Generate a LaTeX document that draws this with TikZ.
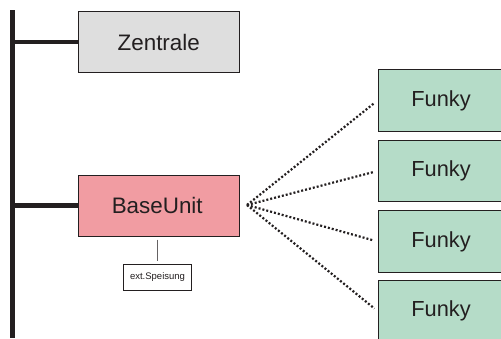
\documentclass[tikz,border=0pt]{standalone}
\usepackage{fontspec}
\setmainfont{Liberation Sans}
\definecolor{ink}{HTML}{231F20}
\definecolor{gray1}{HTML}{DEDEDE}
\definecolor{pink1}{HTML}{F19CA2}
\definecolor{green1}{HTML}{B5DCC8}
\tikzset{
  x=1pt,y=-1pt,
  unitbox/.style={draw=ink,line width=1pt,minimum width=160.5pt,minimum height=61pt,inner sep=0pt,text=ink,font=\fontsize{22.4}{24}\selectfont},
  funkybox/.style={draw=ink,line width=1pt,fill=green1,minimum width=126pt,minimum height=61.5pt,inner sep=0pt,text=ink,font=\fontsize{21.8}{24}\selectfont},
  busline/.style={draw=ink,line width=4.6pt},
  branchline/.style={draw=ink,line width=4.2pt},
  radio/.style={draw=ink,line width=2.2pt,dash pattern=on 2pt off 2pt,shorten >=4pt},
}
\begin{document}
\begin{tikzpicture}
\useasboundingbox (0,0) rectangle (501,338);
\coordinate (bustop) at (12.5,10);
\coordinate (busbottom) at (12.5,338);
\coordinate (fan) at (247,205);
\node[unitbox,fill=gray1] (zentrale) at (158.75,42) {Zentrale};
\node[unitbox,fill=pink1] (base) at (158.75,205.5) {\hspace{-3pt}BaseUnit};
\node[draw=ink,line width=1pt,fill=white,minimum width=68pt,minimum height=26pt,inner sep=0pt,text=ink,font=\fontsize{9.5}{11}\selectfont] (ext) at (157.5,277) {ext.Speisung};
\node[funkybox] (f1) at (441,100.5) {Funky};
\node[funkybox] (f2) at (441,171) {Funky};
\node[funkybox] (f3) at (441,241.5) {Funky};
\node[funkybox] (f4) at (441,311) {Funky};
\draw[busline] (bustop) -- (busbottom);
\draw[branchline] (zentrale.west) -- (zentrale.west -| bustop);
\draw[branchline] (base.west) -- (base.west -| bustop);
\draw[draw=ink!70,line width=1pt,shorten >=3pt,shorten <=3pt] (base.south -| ext.north) -- (ext.north);
\foreach \t in {f1,f2,f3,f4}{
  \draw[radio] (fan) -- (\t.west);
}
\end{tikzpicture}
\end{document}
